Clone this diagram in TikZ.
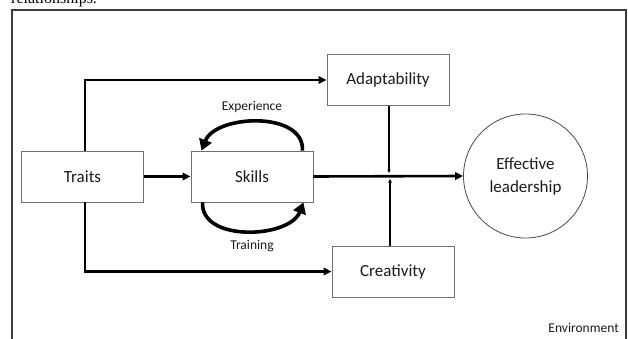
\documentclass[tikz,border=0pt]{standalone}
\usepackage{fontspec}
\setmainfont{Carlito}
\newfontfamily\bodyserif{Liberation Serif}
\usetikzlibrary{arrows.meta}
\definecolor{boxline}{HTML}{707070}
\definecolor{ink}{HTML}{1A1A1A}
\begin{document}
\begin{tikzpicture}[x=1pt,y=1pt,
  factor/.style={draw=boxline, line width=0.9pt, minimum width=122pt, minimum height=51pt,
    inner sep=0pt, text=ink, font=\fontsize{17}{20}\selectfont},
  goal/.style={draw=ink!80, circle, line width=0.8pt, minimum size=124pt, inner sep=0pt,
    text=ink, align=center, font=\fontsize{17}{23}\selectfont},
  flow/.style={draw=black, line width=2.2pt, -{Triangle[length=8pt,width=7.5pt]}},
  feed/.style={draw=black, line width=1.1pt, -{Triangle[length=3.5pt,width=3.5pt]}},
  loop/.style={draw=black, line width=3.6pt, -{Triangle[length=11pt,width=13pt]}},
  tag/.style={text=ink, font=\fontsize{13.5}{16}\selectfont, inner sep=0pt}]
\useasboundingbox (0,0) rectangle (628,338);
\begin{scope}
\clip (0,0) rectangle (628,338);
% running text above the frame
\node[anchor=base west, inner sep=0pt, font=\bodyserif\fontsize{16}{18}\selectfont] (caption) at (11,334) {relationships.};
% environment frame
\draw[line width=2pt, ink!85] (12,-10) -- (12,328) -- (626,328) -- (626,-10);
\node[tag, anchor=base east] (env) at (619,6) {Environment};

% factors
\node[factor] (traits) at (82.5,161.5) {Traits};
\node[factor] (skills) at (252,161.5) {Skills};
\node[factor] (adapt) at (388,258) {Adaptability};
\node[factor] (creat) at (393,66.5) {Creativity};
\node[goal] (lead) at (525.5,162) {Effective\\leadership};

% main flows
\draw[flow] (traits.east) -- (skills.west);
\draw[flow] ([xshift=2.5pt]traits.north) |- (adapt.west);
\draw[flow] ([xshift=2.5pt]traits.south) |- (creat.west);
\draw[flow, line width=2.6pt] (skills.east) -- (lead.west);

% moderating effects on the skills path
\coordinate (jtop) at (389,165);
\coordinate (jbot) at (390,159);
\draw[feed] (adapt.south -| jtop) -- (jtop);
\draw[feed] (creat.north -| jbot) -- (jbot);

% development loops around skills
\draw[loop] ([xshift=-11pt]skills.north east) .. controls +(2,40) and +(14,36) .. ([xshift=11pt]skills.north west);
\draw[loop] ([xshift=12pt]skills.south west) .. controls +(-2,-40) and +(-14,-36) .. ([xshift=-10pt]skills.south east);
\node[tag] (exp) at (252,231) {Experience};
\node[tag] (train) at (252,92) {Training};
\end{scope}
\end{tikzpicture}
\end{document}
